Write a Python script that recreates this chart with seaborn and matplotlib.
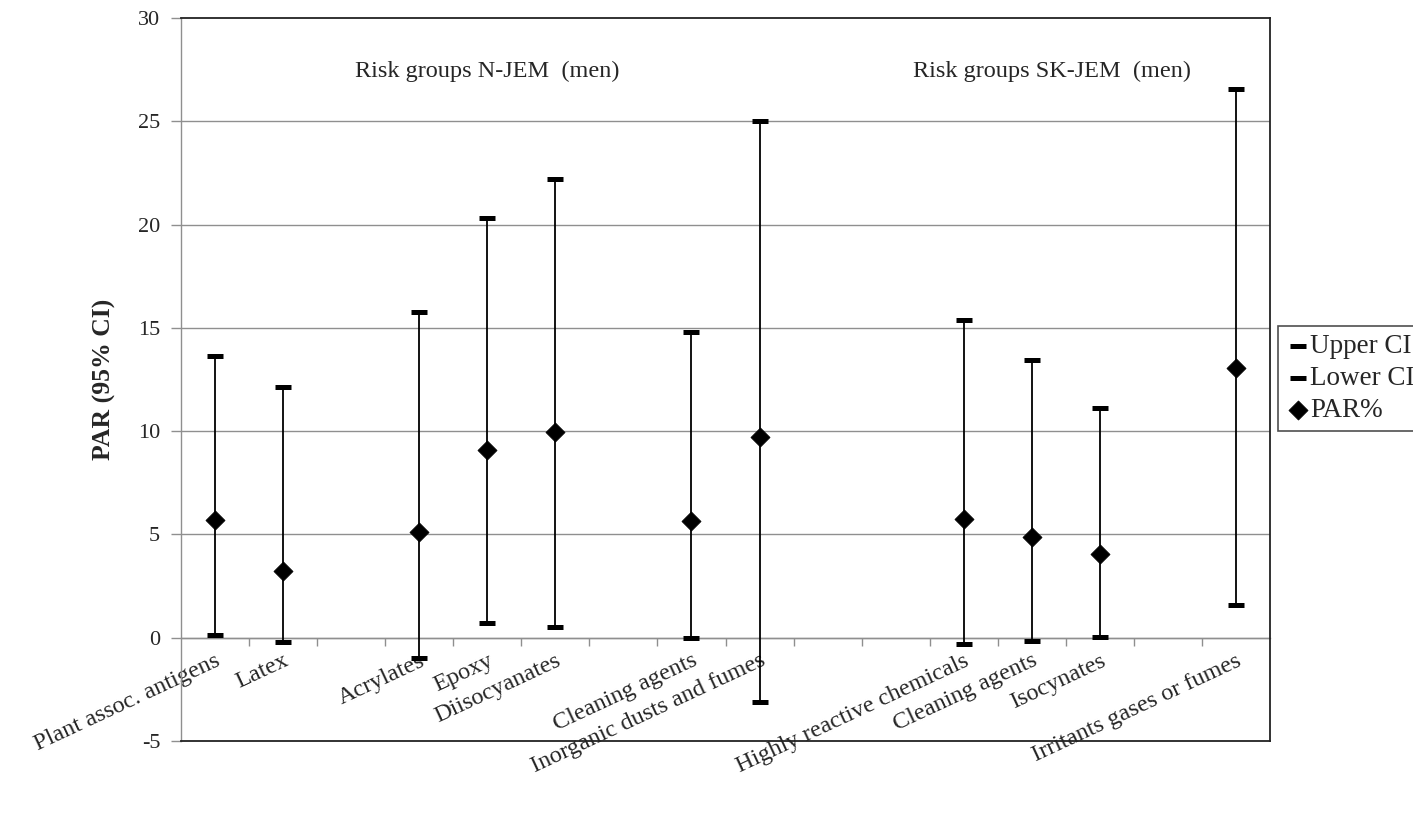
import numpy as np
import pandas as pd
import matplotlib
matplotlib.use("Agg")
import matplotlib.pyplot as plt
import seaborn as sns

# ---- data (blank strings = empty slots in the category axis) ----
categories = ["Plant assoc. antigens", "Latex", "", "Acrylates", "Epoxy", "Diisocyanates", "",
              "Cleaning agents", "Inorganic dusts and fumes", "", "",
              "Highly reactive chemicals", "Cleaning agents", "Isocynates", "",
              "Irritants gases or fumes"]
upper_ci = [13.62, 12.15, np.nan, 15.76, 20.34, 22.23, np.nan,
            14.78, 24.99, np.nan, np.nan, 15.39, 13.44, 11.12, np.nan, 26.57]
lower_ci = [0.12, -0.19, np.nan, -0.97, 0.73, 0.53, np.nan,
            0.00, -3.10, np.nan, np.nan, -0.30, -0.15, 0.03, np.nan, 1.60]
par_pct = [5.68, 3.21, np.nan, 5.11, 9.08, 9.96, np.nan,
           5.66, 9.70, np.nan, np.nan, 5.74, 4.87, 4.07, np.nan, 13.08]
y_ticks = [-5, 0, 5, 10, 15, 20, 25, 30]
group_labels = ["Risk groups N-JEM  (men)", "Risk groups SK-JEM  (men)"]

df = pd.DataFrame({"pos": np.arange(len(categories)), "cat": categories,
                   "upper": upper_ci, "lower": lower_ci, "par": par_pct})
d = df.dropna()

sns.set_theme(style="white")
plt.rcParams["font.family"] = ["Liberation Serif", "DejaVu Serif"]

fig = plt.figure(figsize=(14.13, 8.25), dpi=100)
ax = fig.add_axes([181/1413, 1-741/825, (1270-181)/1413, (741-18)/825])

ymin, ymax = y_ticks[0], y_ticks[-1]
ax.set_ylim(ymin, ymax)
ax.set_xlim(-0.5, len(categories) - 0.5)

# gridlines
for t in y_ticks[1:-1]:
    ax.axhline(t, color="#8f8f8f", lw=1.0, zorder=0)

# high-low lines
ax.vlines(d["pos"], d["lower"], d["upper"], color="black", lw=1.3, zorder=2)

sns.scatterplot(data=d, x="pos", y="upper", marker="_", s=120, color="black",
                linewidth=3.6, label="Upper CI", ax=ax, zorder=3, legend=False)
sns.scatterplot(data=d, x="pos", y="lower", marker="_", s=120, color="black",
                linewidth=3.6, label="Lower CI", ax=ax, zorder=3, legend=False)
sns.scatterplot(data=d, x="pos", y="par", marker="D", s=95, color="black",
                edgecolor="black", linewidth=0.5, label="PAR%", ax=ax, zorder=4, legend=False)

# spines
for side in ["top", "right", "bottom"]:
    ax.spines[side].set_color("#222222")
    ax.spines[side].set_linewidth(1.3)
ax.spines["left"].set_color("#8f8f8f")
ax.spines["left"].set_linewidth(1.0)

ax.set_yticks(y_ticks)
ax.set_yticklabels([str(t) for t in y_ticks], fontsize=16)
ax.tick_params(axis="y", direction="out", length=7, color="#8f8f8f", width=1, pad=8, left=True)
ax.set_xticks([])
ax.set_xlabel("")
ax.set_ylabel("PAR (95% CI)", fontsize=18.5, fontweight="bold", labelpad=16)

# category axis crossing at zero
zero_frac = (0 - ymin) / (ymax - ymin)
sec = ax.secondary_xaxis(zero_frac)
sec.spines["bottom"].set_color("#8f8f8f")
sec.spines["bottom"].set_linewidth(1.0)
sec.set_xticks(df["pos"])
sec.set_xticklabels(categories, fontsize=17.5, rotation=25, ha="right", rotation_mode="anchor")
sec.set_xticks(np.arange(len(categories) - 1) + 0.5, minor=True)
sec.tick_params(axis="x", which="major", length=0, pad=9)
sec.tick_params(axis="x", which="minor", length=6, color="#8f8f8f", width=1, direction="out")

# group annotations
ax.text(4.0, 27.4, group_labels[0], fontsize=17.5, ha="center", va="center")
ax.text(12.3, 27.4, group_labels[1], fontsize=17.5, ha="center", va="center")

leg = ax.legend(loc="upper left", bbox_to_anchor=(1278/1413, 1-326/825),
                bbox_transform=fig.transFigure, borderaxespad=0, frameon=True,
                fontsize=19.5, handletextpad=0.0, handlelength=0.9, labelspacing=0.25,
                fancybox=False, borderpad=0.3)
leg.get_frame().set_edgecolor("#222222")
leg.get_frame().set_linewidth(1.2)

fig.savefig("out.png", dpi=100, facecolor="white")
